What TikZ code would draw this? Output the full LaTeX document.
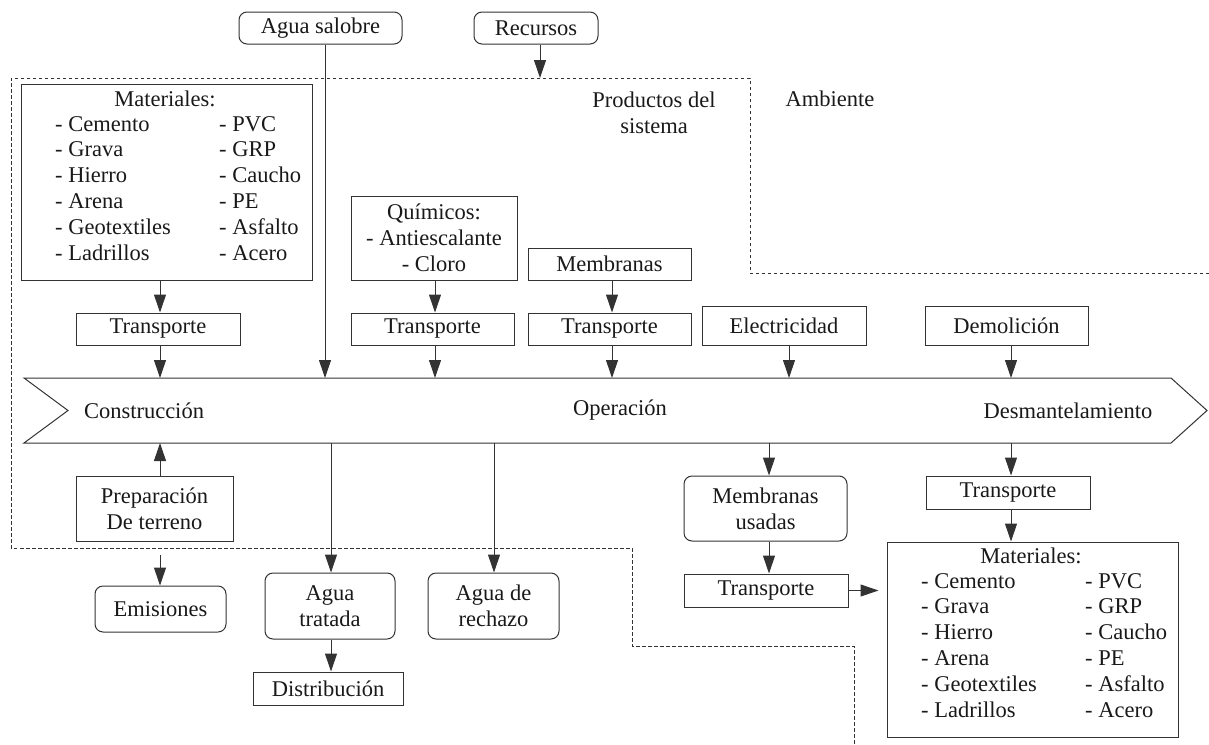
\documentclass[tikz,border=0pt]{standalone}
\usepackage{fontspec}
\setmainfont{Liberation Serif}
\usetikzlibrary{arrows.meta}
\begin{document}
\begin{tikzpicture}[x=1pt,y=-1pt,
  every node/.style={font=\fontsize{22.5}{25.8}\selectfont, inner sep=0pt, text=black!90},
  sq/.style={draw=black!80, line width=1pt, rectangle},
  rd/.style={draw=black!80, line width=1pt, rectangle, rounded corners=8pt},
  arr/.style={draw=black!80, line width=1pt, -{Triangle[length=18pt,width=12pt]}},
  ln/.style={draw=black!80, line width=1pt},
  bound/.style={draw=black!80, line width=0.8pt, dash pattern=on 3.5pt off 2.5pt},
  txt/.style={anchor=base west},
  ctxt/.style={anchor=base}]
\useasboundingbox (0,0) rectangle (1209,744);
% macro for a box given corners
\newcommand\bx[7]{\node[#1, minimum width={#5-#3}, minimum height={#6-#4}, align=center] (#2) at ({(#3+#5)/2},{(#4+#6)/2}) {#7};}
% boundary
\draw[bound] (1209,273) -- (750,273) -- (750,78) -- (11,78) -- (11,548) -- (632,548) -- (632,646) -- (854,646) -- (854,744);
% chevron
\draw[ln, fill=white] (24,378) -- (1171,378) -- (1207,410.5) -- (1171,443) -- (24,443) -- (68,410.5) -- cycle;
\coordinate (cT) at (0,378);
\coordinate (cB) at (0,443);
\node (cons) at (144,410.5) {Construcción};
\node (oper) at (620,410.5) {Operación};
\node (desm) at (1068,410.5) {Desmantelamiento};
% top
\bx{rd}{agua}{239}{12}{402}{44}{Agua salobre}
\bx{rd}{recu}{474}{12}{598}{44}{Recursos}
\node (amb) at (830,99) {Ambiente};
\node[align=center] (prod) at (654,113) {Productos del\\sistema};
% materials top-left
\bx{sq}{m1}{21}{84}{312}{280}{}
\node[ctxt] (m1h) at (165,106) {Materiales:};
\foreach \a/\b [count=\i from 0] in {Cemento/PVC,Grava/GRP,Hierro/Caucho,Arena/PE,Geotextiles/Asfalto,Ladrillos/Acero}{
  \node[txt] (m1l\i) at (55,131+25.8*\i) {- \a};
  \node[txt] (m1r\i) at (219,131+25.8*\i) {- \b};
}
\bx{sq}{chem}{351}{196}{517}{280}{Químicos:\\- Antiescalante\\- Cloro}
\bx{sq}{memb}{528}{248}{691}{280}{Membranas}
\bx{sq}{t1}{76}{313}{240}{345}{Transporte}
\bx{sq}{t2}{351}{313}{514}{345}{Transporte}
\bx{sq}{t3}{528}{313}{691}{345}{Transporte}
\bx{sq}{elec}{702}{306}{866}{345}{Electricidad}
\bx{sq}{demo}{925}{306}{1088}{345}{Demolición}
% bottom
\bx{sq}{prep}{76}{476}{233}{541}{Preparación\\De terreno}
\bx{rd}{emis}{95}{586}{226}{632}{Emisiones}
\bx{rd}{aguat}{265}{573}{395}{639}{Agua\\tratada}
\bx{rd}{aguar}{428}{573}{559}{639}{Agua de\\rechazo}
\bx{sq}{distr}{253}{672}{403}{705}{Distribución}
\bx{rd}{membu}{684}{476}{847}{541}{Membranas\\usadas}
\bx{sq}{t4}{684}{574}{848}{607}{Transporte}
\bx{sq}{t5}{926}{476}{1090}{509}{Transporte}
\bx{sq}{m2}{887}{542}{1178}{737}{}
\node[ctxt] (m2h) at (1031,563) {Materiales:};
\foreach \a/\b [count=\i from 0] in {Cemento/PVC,Grava/GRP,Hierro/Caucho,Arena/PE,Geotextiles/Asfalto,Ladrillos/Acero}{
  \node[txt] (m2l\i) at (921,588+25.8*\i) {- \a};
  \node[txt] (m2r\i) at (1085,588+25.8*\i) {- \b};
}
% connectors
\coordinate (recEnd) at (540,78);
\coordinate (emStart) at (160,555);
\draw[arr] (recu.south -| recEnd) -- (recEnd);
\draw[arr] (agua.south -| 325,0) -- (325,378);
\draw[arr] (m1.south -| 160,0) -- (t1.north -| 160,0);
\draw[arr] (t1.south -| 160,0) -- (cT -| 160,0);
\draw[arr] (chem.south -| 435,0) -- (t2.north -| 435,0);
\draw[arr] (t2.south -| 435,0) -- (cT -| 435,0);
\draw[arr] (memb.south -| 612,0) -- (t3.north -| 612,0);
\draw[arr] (t3.south -| 612,0) -- (cT -| 612,0);
\draw[arr] (elec.south -| 789,0) -- (cT -| 789,0);
\draw[arr] (demo.south -| 1011,0) -- (cT -| 1011,0);
\draw[arr] (prep.north -| 160,0) -- (cB -| 160,0);
\draw[arr] (emStart) -- (emis.north -| emStart);
\draw[arr] (cB -| 331,0) -- (aguat.north -| 331,0);
\draw[arr] (aguat.south -| 331,0) -- (distr.north -| 331,0);
\draw[arr] (cB -| 494,0) -- (aguar.north -| 494,0);
\draw[arr] (cB -| 769,0) -- (membu.north -| 769,0);
\draw[arr] (membu.south -| 769,0) -- (t4.north -| 769,0);
\draw[arr] (cB -| 1011,0) -- (t5.north -| 1011,0);
\draw[arr] (t5.south -| 1011,0) -- (m2.north -| 1011,0);
\draw[arr, shorten >=8pt] (t4.east) -- (m2.west |- t4.east);
\end{tikzpicture}
\end{document}
